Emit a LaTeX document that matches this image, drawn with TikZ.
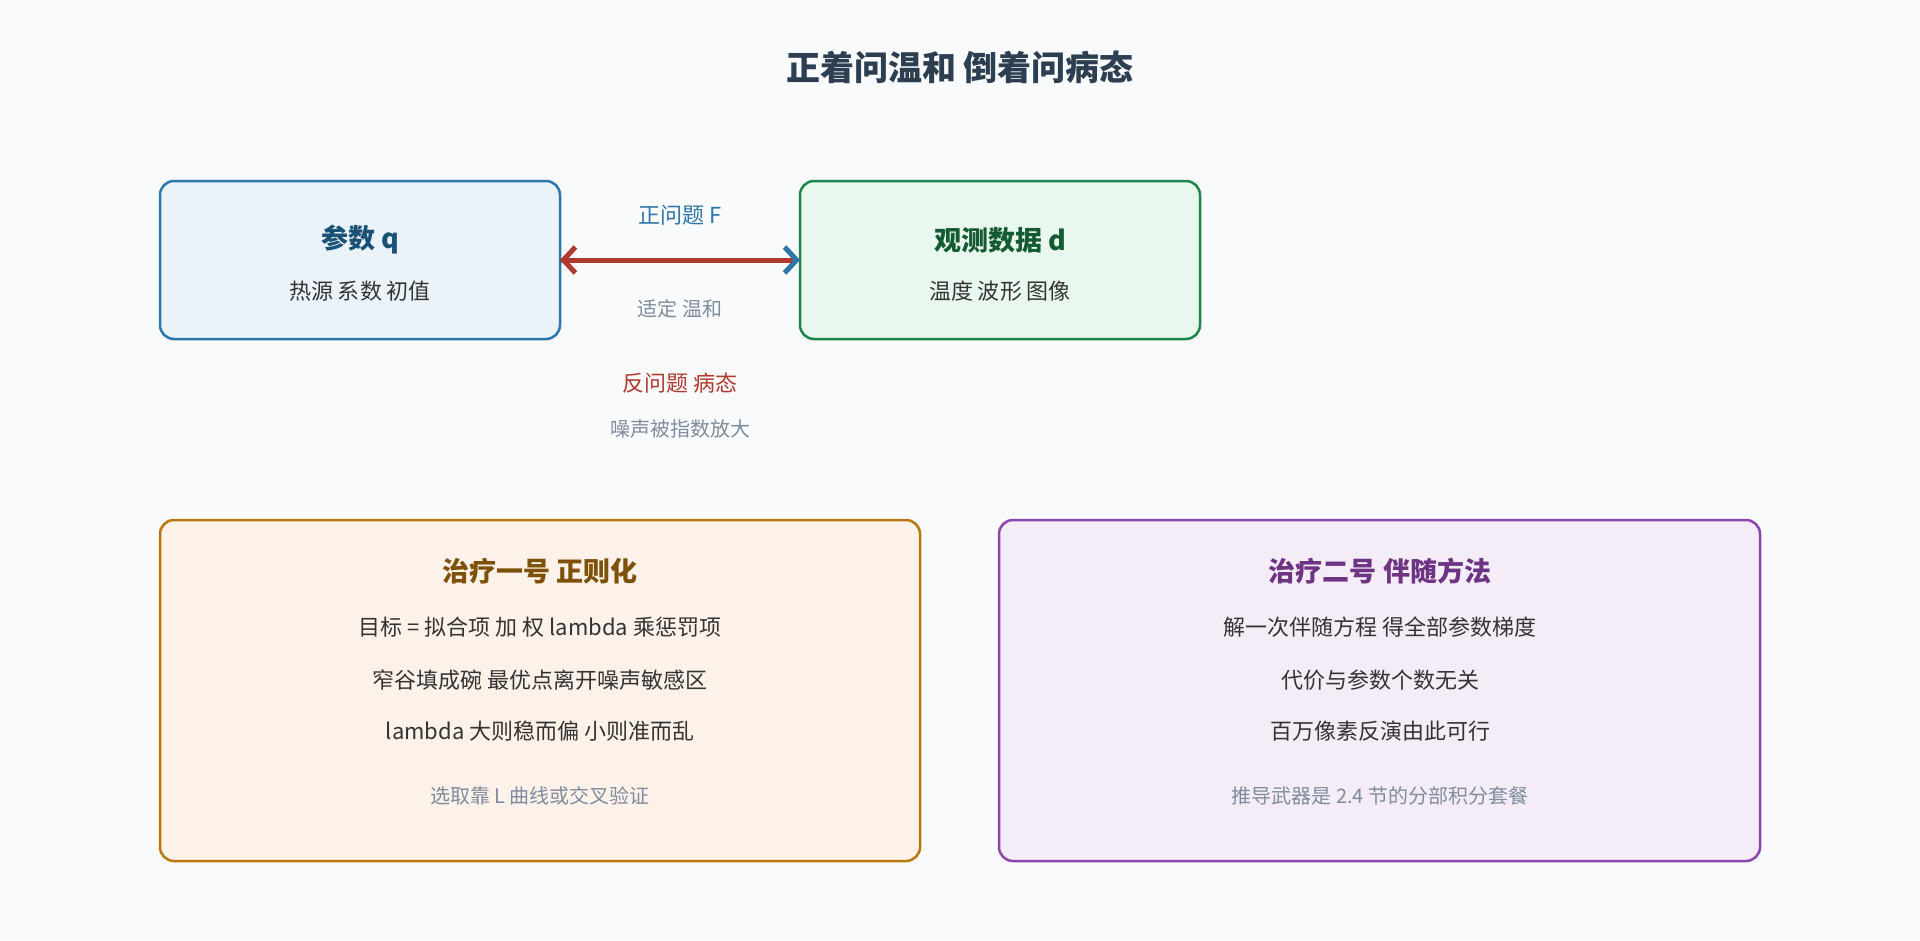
\documentclass[tikz,border=0pt]{standalone}
\usepackage{fontspec}
\setmainfont{Noto Sans CJK SC}
\usetikzlibrary{arrows.meta}
\definecolor{bg}{HTML}{F8FAFC}
\definecolor{tblue}{HTML}{2E75A8}\definecolor{fblue}{HTML}{EBF3FA}\definecolor{dblue}{HTML}{1A5276}
\definecolor{tgreen}{HTML}{1E8449}\definecolor{fgreen}{HTML}{E9F8EE}\definecolor{dgreen}{HTML}{145A32}
\definecolor{torange}{HTML}{B9770E}\definecolor{forange}{HTML}{FDF2E9}\definecolor{dorange}{HTML}{7E5109}
\definecolor{tpurple}{HTML}{8E44AD}\definecolor{fpurple}{HTML}{F4ECF7}\definecolor{dpurple}{HTML}{6C3483}
\definecolor{tred}{HTML}{B03A2E}\definecolor{tgray}{HTML}{7F8C9D}\definecolor{ttext}{HTML}{333333}\definecolor{ttitle}{HTML}{2C3E50}
\tikzset{
 box/.style={draw=#1, line width=2.5pt, rounded corners=14pt},
 ttl/.style={font=\fontsize{27}{32}\selectfont\bfseries, anchor=center},
 body/.style={font=\fontsize{22}{26}\selectfont, text=ttext, anchor=center},
 note/.style={font=\fontsize{20}{24}\selectfont, text=tgray, anchor=center},
}
\begin{document}
\begin{tikzpicture}[x=1pt,y=-1pt]
\fill[bg] (0,0) rectangle (1920,940);
\useasboundingbox (0,0) rectangle (1920,940);
\node[font=\fontsize{34}{40}\selectfont\bfseries, text=ttitle] (title) at (960,67) {正着问温和 倒着问病态};
\draw[box=tblue, fill=fblue] (160,181) rectangle (560,339);
\coordinate (qe) at (560,260);
\node[ttl, text=dblue] (qt) at (360,240) {参数 q};
\node[body] (qs) at (360,291) {热源 系数 初值};
\draw[box=tgreen, fill=fgreen] (800,181) rectangle (1200,339);
\coordinate (de) at (800,260);
\node[ttl, text=dgreen] (dt) at (1000,240) {观测数据 d};
\node[body] (ds) at (1000,291) {温度 波形 图像};
\draw[tblue, line width=5pt, -{Straight Barb[length=12pt,width=26pt,line width=5pt]}] (qe) -- (de);
\draw[tred, line width=5pt, -{Straight Barb[length=12pt,width=26pt,line width=5pt]}] ([xshift=-8pt]de) -- (qe);
\node[body, text=tblue] (f) at (680,215) {正问题 F};
\node[note] (w) at (680,309) {适定 温和};
\node[body, text=tred] (inv) at (680,383) {反问题 病态};
\node[note] (n) at (680,429) {噪声被指数放大};
\draw[box=torange, fill=forange] (160,520) rectangle (920,861);
\node[ttl, text=dorange] (a0) at (540,571) {治疗一号 正则化};
\node[body] (a1) at (540,627) {目标 = 拟合项 加 权 lambda 乘惩罚项};
\node[body] (a2) at (540,680) {窄谷填成碗 最优点离开噪声敏感区};
\node[body] (a3) at (540,731) {lambda 大则稳而偏 小则准而乱};
\node[note] (a4) at (540,796) {选取靠 L 曲线或交叉验证};
\draw[box=tpurple, fill=fpurple] (999,520) rectangle (1760,861);
\node[ttl, text=dpurple] (b0) at (1380,571) {治疗二号 伴随方法};
\node[body] (b1) at (1380,627) {解一次伴随方程 得全部参数梯度};
\node[body] (b2) at (1380,680) {代价与参数个数无关};
\node[body] (b3) at (1380,731) {百万像素反演由此可行};
\node[note] (b4) at (1380,796) {推导武器是 2.4 节的分部积分套餐};
\end{tikzpicture}
\end{document}
